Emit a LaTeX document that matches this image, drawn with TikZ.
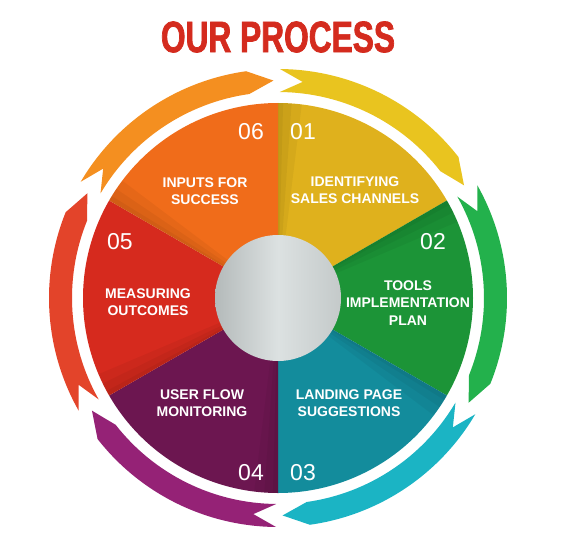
\documentclass[tikz,border=0pt]{standalone}
\usepackage{fontspec}
\setmainfont{Liberation Sans}
\newfontfamily\titlefont[FakeBold=1.6,FakeStretch=0.72]{Liberation Sans Bold}
\usepackage{tikz}

\definecolor{secorange}{HTML}{F06C1A}
\definecolor{secyellow}{HTML}{DFB11D}
\definecolor{secgreen}{HTML}{1C9437}
\definecolor{secteal}{HTML}{138C9C}
\definecolor{secpurple}{HTML}{6C1650}
\definecolor{secred}{HTML}{D62A1E}
\definecolor{arrorange}{HTML}{F48F20}
\definecolor{arryellow}{HTML}{E9C41F}
\definecolor{arrgreen}{HTML}{23B14C}
\definecolor{arrcyan}{HTML}{1BB4C4}
\definecolor{arrpurple}{HTML}{952276}
\definecolor{arrred}{HTML}{E3442A}
\definecolor{titlered}{HTML}{D42B1E}
\definecolor{hubdark}{HTML}{B4BABA}
\definecolor{hublight}{HTML}{DCE1E1}

\begin{document}
\begin{tikzpicture}[
        x=1pt, y=1pt,
        steplabel/.style={text=white, align=center, font=\fontsize{14}{17.5}\selectfont\bfseries},
        stepnum/.style={text=white, font=\fontsize{23}{23}\selectfont},
        headline/.style={text=titlered, font=\fontsize{44}{44}\titlefont},
        crease/.style={black, opacity=0.045}
    ]
        \useasboundingbox (0,0) rectangle (575,550);
        \coordinate (C) at (278,252);

        % Title
        \node[headline] (T) at (278,513) {OUR PROCESS};

        % Sectors
        \fill[secyellow] (C) -- ++(30:195) arc[start angle=30, end angle=90, radius=195] -- cycle;
        \fill[secgreen] (C) -- ++(-30:195) arc[start angle=-30, end angle=30, radius=195] -- cycle;
        \fill[secteal] (C) -- ++(-90:195) arc[start angle=-90, end angle=-30, radius=195] -- cycle;
        \fill[secpurple] (C) -- ++(-150:195) arc[start angle=-150, end angle=-90, radius=195] -- cycle;
        \fill[secred] (C) -- ++(150:195) arc[start angle=150, end angle=210, radius=195] -- cycle;
        \fill[secorange] (C) -- ++(90:195) arc[start angle=90, end angle=150, radius=195] -- cycle;

        % Soft shadow along each fold
        \foreach \a in {90, 30, -30, -90, -150, 150} {
            \fill[crease] (C) -- ++({\a-7}:195) arc[start angle=\a-7, end angle=\a, radius=195] -- cycle;
            \fill[crease] (C) -- ++({\a-4}:195) arc[start angle=\a-4, end angle=\a, radius=195] -- cycle;
            \fill[crease] (C) -- ++({\a-1.5}:195) arc[start angle=\a-1.5, end angle=\a, radius=195] -- cycle;
        }

        % Ring arrows (head angle / colour)
        \foreach \b/\col in {90/arrorange, 30/arryellow, -30/arrgreen, -90/arrcyan, -150/arrpurple, 150/arrred}
            \fill[\col, shift={(C)}] ({\b+59.5}:229) arc[start angle=\b+59.5, end angle=\b+8, radius=229]
                -- ({\b+1.2}:217.5) -- ({\b+8}:206) arc[start angle=\b+8, end angle=\b+59.5, radius=206]
                -- ({\b+53.5}:217.5) -- cycle;

        % Hub
        \shade[left color=hubdark, right color=hubdark!60!hublight, middle color=hublight] (C) circle[radius=63];

        % Numbers
        \node[stepnum] (N1) at (303,418) {01};
        \node[stepnum] (N2) at (433,308) {02};
        \node[stepnum] (N3) at (303,77) {03};
        \node[stepnum] (N4) at (251,77) {04};
        \node[stepnum] (N5) at (120,308) {05};
        \node[stepnum] (N6) at (251,418) {06};

        % Step labels
        \node[steplabel] (L1) at (355,360) {IDENTIFYING\\SALES CHANNELS};
        \node[steplabel] (L2) at (408,247) {TOOLS\\IMPLEMENTATION\\PLAN};
        \node[steplabel] (L3) at (349,147) {LANDING PAGE\\SUGGESTIONS};
        \node[steplabel] (L4) at (202,147) {USER FLOW\\MONITORING};
        \node[steplabel] (L5) at (148,248) {MEASURING\\OUTCOMES};
        \node[steplabel] (L6) at (205,359) {INPUTS FOR\\SUCCESS};

    \end{tikzpicture}
\end{document}
